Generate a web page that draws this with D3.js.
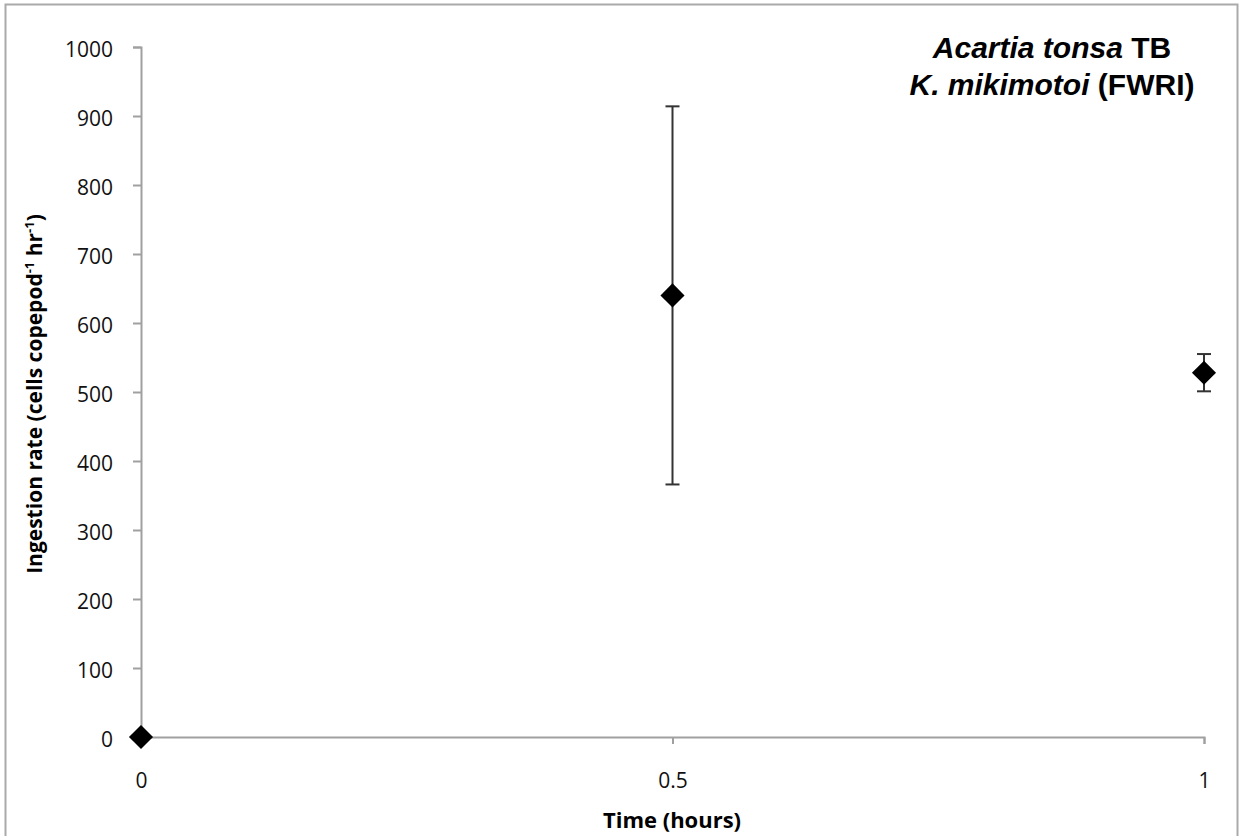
<!DOCTYPE html>
<html><head><meta charset="utf-8">
<script src="https://cdn.jsdelivr.net/npm/d3@7"></script>
<style>body{margin:0;background:#fff}svg{display:block}</style>
</head><body>
<svg id="c" width="1241" height="836"></svg>
<script>
const times = [0, 0.5, 1];
const rates = [0, 640, 528];
const errors = [0, 274, 27];
const yTicks = [0,100,200,300,400,500,600,700,800,900,1000];
const xTicks = [0, 0.5, 1];
const titleLine1 = [["Acartia tonsa", true], [" TB", false]];
const titleLine2 = [["K. mikimotoi", true], [" (FWRI)", false]];

const svg = d3.select("#c");
const font = "'Open Sans', sans-serif";
const titleFont = "'Liberation Sans', Arial, sans-serif";
svg.append("rect").attr("x",5.5).attr("y",4.5).attr("width",1232).attr("height",840)
  .attr("fill","#fff").attr("stroke","#aaa").attr("stroke-width",2);

const x = d3.scaleLinear().domain([0,1]).range([141,1204]);
const y = d3.scaleLinear().domain([0,1000]).range([737,47]);

const yAxis = svg.append("g").attr("transform","translate(141,0)")
  .call(d3.axisLeft(y).tickValues(yTicks).tickSize(8).tickPadding(20).tickFormat(d3.format("d")));
yAxis.selectAll("text").attr("dy","0.45em");
const xAxis = svg.append("g").attr("transform","translate(0,737)")
  .call(d3.axisBottom(x).tickValues(xTicks).tickSize(7).tickPadding(29).tickFormat(d=>String(d)));
[yAxis,xAxis].forEach(a=>{
  a.selectAll("path,line").attr("stroke","#a0a0a0").attr("stroke-width",2);
  a.selectAll("text").attr("font-family",font).attr("font-size",21).attr("fill","#111");
});

// error bars
const g = svg.append("g");
times.forEach((t,i)=>{
  if(!errors[i]) return;
  const cx = x(t);
  g.append("line").attr("x1",cx).attr("x2",cx).attr("y1",y(rates[i]+errors[i])).attr("y2",y(rates[i]-errors[i]))
    .attr("stroke","#333").attr("stroke-width",2);
  [rates[i]+errors[i], rates[i]-errors[i]].forEach(v=>{
    g.append("line").attr("x1",cx-7).attr("x2",cx+7).attr("y1",y(v)).attr("y2",y(v))
      .attr("stroke","#333").attr("stroke-width",2);
  });
});
// diamonds
times.forEach((t,i)=>{
  g.append("path").attr("d", d3.symbol().type(d3.symbolSquare).size(290)())
    .attr("transform",`translate(${x(t)},${y(rates[i])}) rotate(45)`).attr("fill","#000");
});

// title
function line(lineParts, yy){
  const t = svg.append("text").attr("x",1052).attr("y",yy).attr("text-anchor","middle")
    .attr("font-family",titleFont).attr("font-size",30).attr("font-weight","bold").attr("fill","#000");
  lineParts.forEach(([s,it])=>t.append("tspan").text(s).attr("font-style",it?"italic":"normal"));
}
line(titleLine1, 58);
line(titleLine2, 95);

// y label
const yl = svg.append("text").attr("transform","translate(42,394) rotate(-90)").attr("text-anchor","middle")
  .attr("font-family",font).attr("font-size",21).attr("font-weight","bold");
yl.append("tspan").text("Ingestion rate (cells copepod");
yl.append("tspan").text("-1").attr("font-size",13).attr("dy",-8);
yl.append("tspan").text(" hr").attr("font-size",21).attr("dy",8);
yl.append("tspan").text("-1").attr("font-size",13).attr("dy",-8);
yl.append("tspan").text(")").attr("font-size",21).attr("dy",8);

svg.append("text").attr("x",672).attr("y",828).attr("text-anchor","middle")
  .attr("font-family",font).attr("font-size",22).attr("font-weight","bold").text("Time (hours)");
</script>
</body></html>
